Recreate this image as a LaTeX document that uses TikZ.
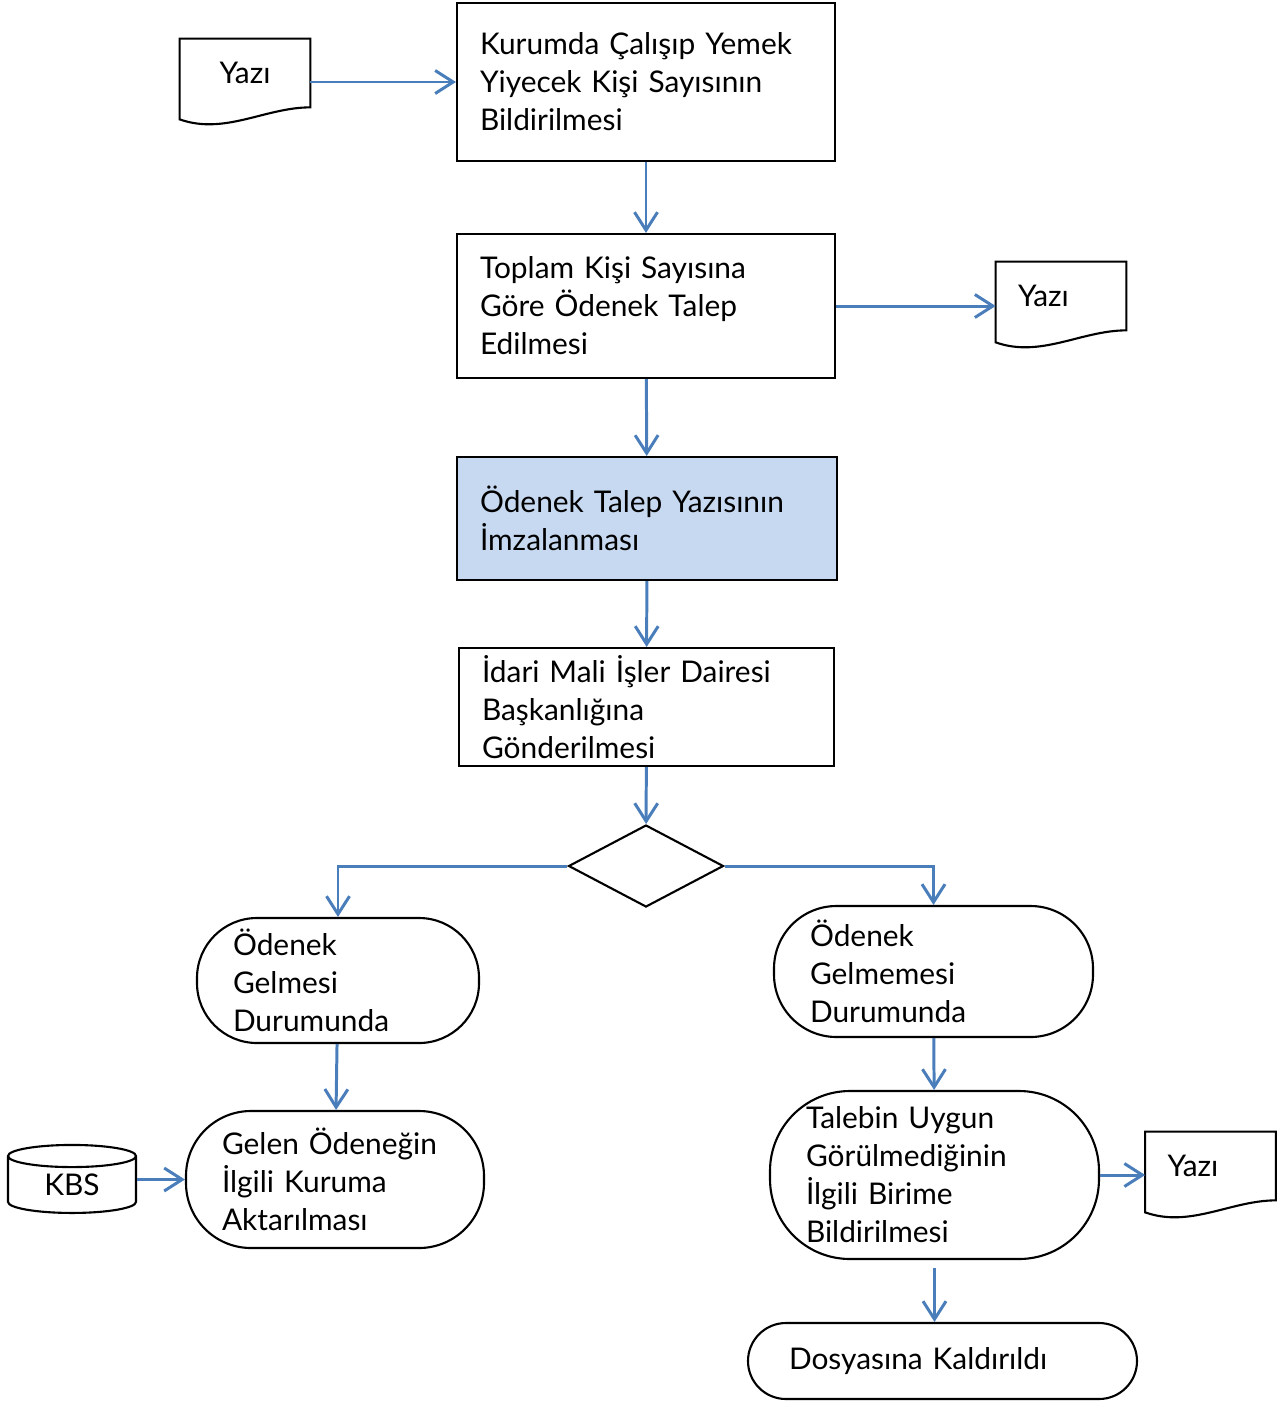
\documentclass[tikz,border=0pt]{standalone}
\usepackage{fontspec}
\setmainfont{Lato}
\usetikzlibrary{arrows.meta}
\usetikzlibrary{shapes.geometric}
\usetikzlibrary{calc}
\definecolor{flowblue}{HTML}{4A7EBB}
\definecolor{imzafill}{HTML}{C6D9F1}
\tikzset{flow/.style = {draw=flowblue, line width=1.7pt,
                        -{Straight Barb[length=0.36cm, width=0.46cm]}}}
\tikzset{process/.style = {draw, line width=1.2pt, rectangle, align=left,
                           inner xsep=0.46cm, inner ysep=0pt}}
\tikzset{terminal/.style = {draw, line width=1.2pt, rectangle, align=left,
                            inner xsep=0.72cm, inner ysep=0pt}}
\tikzset{decision/.style = {draw, line width=1.2pt, diamond, inner sep=0pt,
                            minimum width=3.1cm, minimum height=1.64cm}}
\tikzset{yazibox/.style = {minimum width=2.6cm, minimum height=1.36cm, inner sep=0pt}}
\tikzset{yazileft/.style = {yazibox, align=left, inner xsep=0.44cm, text width=1.72cm}}

\begin{document}
\begin{tikzpicture}[font=\fontsize{17}{21.6}\selectfont]
    \useasboundingbox (0, 0) rectangle (25.58, -28.02);

    % main column
    \node [process, minimum width=7.56cm, minimum height=3.16cm, text width=6.64cm]
      (kurum) at (12.92, -1.64) {Kurumda Çalışıp Yemek\\Yiyecek Kişi Sayısının\\Bildirilmesi};
    \node [process, minimum width=7.56cm, minimum height=2.88cm, text width=6.64cm]
      (toplam) at (12.92, -6.12) {Toplam Kişi Sayısına\\Göre Ödenek Talep\\Edilmesi};
    \node [process, fill=imzafill, minimum width=7.6cm, minimum height=2.46cm, text width=6.68cm]
      (imza) at (12.94, -10.37) {Ödenek Talep Yazısının\\İmzalanması};
    \node [process, minimum width=7.5cm, minimum height=2.36cm, text width=6.58cm]
      (idari) at (12.93, -14.14) {İdari Mali İşler Dairesi\\Başkanlığına\\Gönderilmesi};
    \node [decision] (karar) at (12.92, -17.32) {};

    % two branches
    \node [terminal, rounded corners=1.2cm, minimum width=5.64cm, minimum height=2.5cm, text width=4.2cm]
      (gelir) at (6.76, -19.61) {Ödenek\\Gelmesi\\Durumunda};
    \node [terminal, rounded corners=1.25cm, minimum width=6.38cm, minimum height=2.62cm, text width=4.94cm]
      (gelmez) at (18.67, -19.43) {Ödenek\\Gelmemesi\\Durumunda};
    \node [terminal, rounded corners=1.3cm, minimum width=5.96cm, minimum height=2.74cm, text width=4.52cm]
      (aktar) at (6.7, -23.59) {Gelen Ödeneğin\\İlgili Kuruma\\Aktarılması};
    \node [terminal, rounded corners=1.6cm, minimum width=6.58cm, minimum height=3.36cm, text width=5.14cm]
      (bildir) at (18.69, -23.5) {Talebin Uygun\\Görülmediğinin\\İlgili Birime\\Bildirilmesi};
    \node [terminal, rounded corners=0.76cm, inner xsep=0.82cm, minimum width=7.78cm, minimum height=1.52cm, text width=6.14cm]
      (dosya) at (18.85, -27.22) {Dosyasına Kaldırıldı};
    \node [draw, line width=1.2pt, cylinder, shape border rotate=90, aspect=0.4,
           minimum width=2.56cm, minimum height=1.36cm, inner sep=0pt]
      (kbs) at (1.44, -23.7) {KBS};

    % documents
    \node [yazibox] (yazi1) at (4.9, -1.46) {Yazı};
    \node [yazileft] (yazi2) at (21.22, -5.92) {Yazı};
    \node [yazileft] (yazi3) at (24.21, -23.32) {Yazı};
    \foreach \d in {yazi1,yazi2,yazi3} {
      \draw [line width=1.2pt] (\d.north west) -- (\d.north east) -- (\d.south east)
        .. controls +(-0.9, 0) and +(0.9, -0.32) .. ([yshift=-0.24cm]\d.south west) -- cycle;
    }

    % connectors
    \draw [flow] (yazi1.east |- kurum.west) -- (kurum.west);
    \draw [flow] (kurum) -- (toplam);
    \draw [flow] (toplam.east) -- (toplam.east -| yazi2.west);
    \draw [flow] (toplam) -- (imza);
    \draw [flow] (imza) -- (idari);
    \draw [flow] (idari) -- (karar);
    \draw [flow] (karar.west) -| (gelir.north);
    \draw [flow] (karar.east) -| (gelmez.north);
    \draw [flow] (gelir) -- (aktar);
    \draw [flow] (kbs.east |- aktar.west) -- (aktar.west);
    \draw [flow] (gelmez) -- (bildir);
    \draw [flow] (bildir.east) -- (bildir.east -| yazi3.west);
    \draw [flow, shorten <=0.16cm] (bildir.south) -- (bildir.south |- dosya.north);
  \end{tikzpicture}
\end{document}
